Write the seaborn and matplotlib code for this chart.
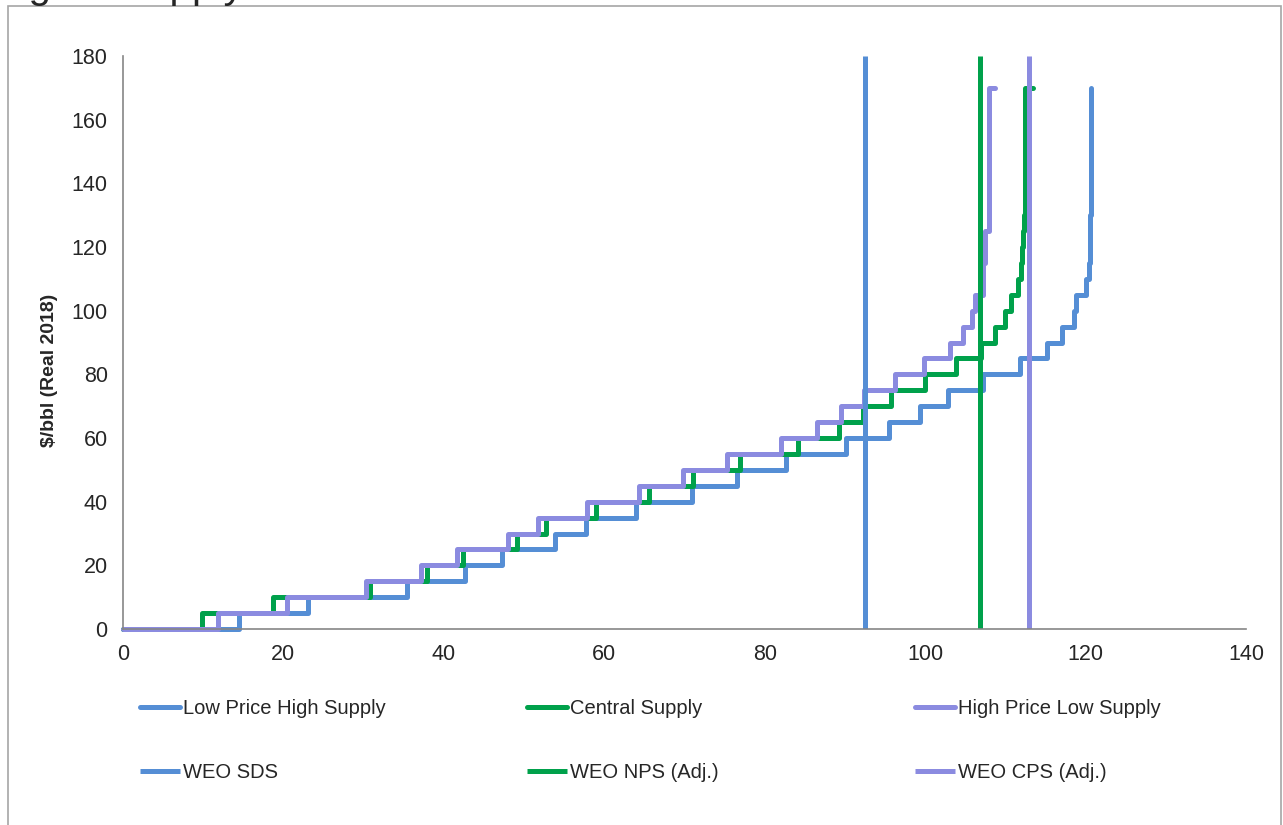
import numpy as np
import pandas as pd
import seaborn as sns
import matplotlib.pyplot as plt
from matplotlib.patches import Rectangle

# price levels ($/bbl) of each supply step
price = list(range(0, 175, 5))

# cumulative supply reached at the end of each price step
low_price_high_supply = [14.4, 23.1, 35.4, 42.6, 47.3, 53.9, 57.7, 64.0, 70.9, 76.6, 82.7, 90.1, 95.5,
                         99.4, 102.9, 107.2, 111.8, 115.2, 117.0, 118.5, 118.8, 120.0, 120.4, 120.5,
                         120.5, 120.6, 120.7, 120.7, 120.7, 120.7, 120.7, 120.7, 120.7, 120.7, 120.7]
central_supply = [9.9, 18.7, 30.8, 37.9, 42.4, 49.1, 52.7, 59.0, 65.6, 71.1, 76.9, 84.1, 89.2,
                  92.3, 95.8, 100.0, 103.9, 107.0, 108.7, 110.0, 110.7, 111.6, 112.0, 112.1,
                  112.2, 112.3, 112.4, 112.5, 112.5, 112.5, 112.5, 112.5, 112.5, 112.5, 113.5]
high_price_low_supply = [11.9, 20.5, 30.3, 37.1, 41.7, 48.0, 51.7, 57.8, 64.3, 69.8, 75.3, 82.0, 86.5,
                         89.5, 92.4, 96.3, 99.8, 103.1, 104.7, 105.8, 106.2, 107.2, 107.2, 107.5,
                         107.5, 107.9, 107.9, 108.0, 108.0, 108.0, 108.0, 108.0, 108.0, 108.0, 108.7]

# WEO demand levels (vertical lines)
weo_sds = 92.5
weo_nps = 106.8
weo_cps = 112.9
weo_span = [0, 180]

blue = '#558ED5'
green = '#00A14B'
purple = '#8B8BE0'

sns.set_style('white')
plt.rcParams['font.family'] = ['Liberation Sans', 'DejaVu Sans']

fig = plt.figure(figsize=(12.83, 8.25), dpi=100)
ax = fig.add_axes([123/1283, 1-629/825, 1123/1283, 573/825])

curves = [('Low Price High Supply', low_price_high_supply, blue),
          ('Central Supply', central_supply, green),
          ('High Price Low Supply', high_price_low_supply, purple)]
for name, supply, col in curves:
    df = pd.DataFrame({'x': [0] + supply, 'y': price + [price[-1]]})
    sns.lineplot(data=df, x='x', y='y', ax=ax, estimator=None, sort=False, color=col, lw=3.6,
                 drawstyle='steps-post', label=name, clip_on=False,
                 solid_joinstyle='round', solid_capstyle='round')

weos = [('WEO SDS', weo_sds, blue), ('WEO NPS (Adj.)', weo_nps, green), ('WEO CPS (Adj.)', weo_cps, purple)]
for name, xv, col in weos:
    sns.lineplot(x=[xv, xv], y=weo_span, ax=ax, estimator=None, sort=False, color=col, lw=3.6,
                 label=name, solid_capstyle='butt')

handles, labels = ax.get_legend_handles_labels()
ax.get_legend().remove()

ax.set_xlim(0, 140)
ax.set_ylim(0, 180)
ax.set_xticks(range(0, 141, 20))
ax.set_yticks(range(0, 181, 20))
ax.set_xlabel('')
ax.set_ylabel('$/bbl (Real 2018)', fontsize=14, fontweight='bold')
ax.yaxis.set_label_coords(-0.058, 0.452)
for s in ['top', 'right']:
    ax.spines[s].set_visible(False)
for s in ['left', 'bottom']:
    ax.spines[s].set_color('#868686')
    ax.spines[s].set_linewidth(1.2)
ax.tick_params(axis='both', direction='out', length=6, width=1.2, color='#868686', labelsize=15.5)
ax.tick_params(axis='y', pad=5)
ax.tick_params(axis='x', pad=5)

# legend: three columns, two rows
col_x = [140, 527, 915]
for i in range(3):
    fig.legend(handles=[handles[i], handles[i+3]], labels=[labels[i], labels[i+3]],
               loc='center left', bbox_to_anchor=(col_x[i]/1283, 1-740.5/825),
               frameon=False, fontsize=14.5, handlelength=2.0, handletextpad=0.15,
               labelspacing=2.25, borderpad=0, borderaxespad=0)

# chart frame and cut-off title
fig.patches.append(Rectangle((8/1283, -0.1), 1273/1283, 1.1 - 6/825, transform=fig.transFigure,
                             fill=False, edgecolor='#A6A6A6', lw=1.2))
fig.text(-5/1283, 1 + 1.8/825, 'Figure Supply Curves', fontsize=29, va='baseline', ha='left')

fig.savefig('out.png', dpi=100)
